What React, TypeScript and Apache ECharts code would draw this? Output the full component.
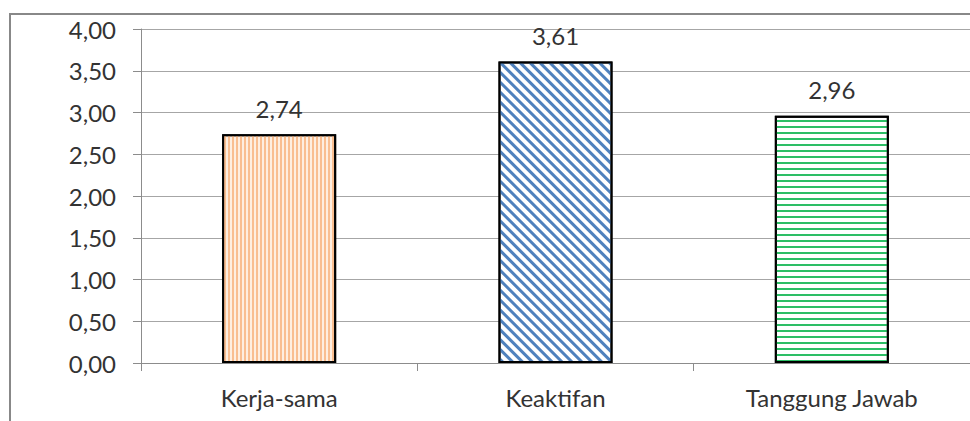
import React, { useEffect, useRef } from "react";
import * as echarts from "echarts";

const categories = ["Kerja-sama", "Keaktifan", "Tanggung Jawab"];
const values = [2.74, 3.61, 2.96];
const yTicks = { min: 0, max: 4, interval: 0.5 };

const fmt = (v: number) => v.toFixed(2).replace(".", ",");

export default function App() {
  const ref = useRef<HTMLDivElement>(null);
  useEffect(() => {
    if (!ref.current) return;
    const chart = echarts.init(ref.current, null, { renderer: "svg" });
    const font = "Lato";
    const fs = 24;
    const styles = [
      {
        color: "#FEEEE0",
        borderColor: "#000",
        borderWidth: 2,
        decal: {
          symbol: "rect",
          symbolSize: 1,
          color: "#F9BE90",
          dashArrayX: [1.6, 1.8],
          dashArrayY: [10, 0],
          rotation: 0,
        },
      },
      {
        color: "#FFFFFF",
        borderColor: "#000",
        borderWidth: 2,
        decal: {
          symbol: "rect",
          symbolSize: 1,
          color: "#4F81BD",
          dashArrayX: [2.4, 3.3],
          dashArrayY: [10, 0],
          rotation: -Math.PI / 4,
        },
      },
      {
        color: "#FFFFFF",
        borderColor: "#000",
        borderWidth: 2,
        decal: {
          symbol: "rect",
          symbolSize: 1,
          color: "#2DBE66",
          dashArrayX: [10, 0],
          dashArrayY: [2, 3.3],
          rotation: 0,
        },
      },
    ];
    chart.setOption({
      animation: false,
      backgroundColor: "#fff",
      textStyle: { fontFamily: font },
      grid: { left: 141, top: 29, width: 840, height: 334, containLabel: false },
      xAxis: {
        type: "category",
        data: categories,
        axisLine: { show: true, lineStyle: { color: "#8C8C8C", width: 1 } },
        axisTick: { show: true, length: 8, alignWithLabel: false, lineStyle: { color: "#8C8C8C" } },
        axisLabel: { color: "#333", fontSize: fs, fontFamily: font, margin: 22 },
        splitLine: { show: false },
      },
      yAxis: {
        type: "value",
        min: yTicks.min,
        max: yTicks.max,
        interval: yTicks.interval,
        axisLine: { show: true, lineStyle: { color: "#8C8C8C", width: 1 } },
        axisTick: { show: true, length: 8, lineStyle: { color: "#8C8C8C" } },
        axisLabel: { color: "#333", fontSize: fs, fontFamily: font, margin: 25, formatter: (v: number) => fmt(v) },
        splitLine: { show: true, lineStyle: { color: "#A6A6A6", width: 1 } },
      },
      series: [
        {
          type: "bar",
          barWidth: 114,
          data: values.map((v, i) => ({ value: v, itemStyle: styles[i] })),
          label: {
            show: true,
            position: "top",
            distance: 14,
            color: "#333",
            fontSize: fs,
            fontFamily: font,
            formatter: (p: any) => fmt(p.value),
          },
        },
      ],
      graphic: [
        {
          type: "rect",
          shape: { x: 10, y: 14, width: 1200, height: 800 },
          style: { fill: "none", stroke: "#888888", lineWidth: 2 },
          silent: true,
          z: 100,
        },
      ],
    });
    return () => chart.dispose();
  }, []);
  return (
    <div
      ref={ref}
      style={{ position: "absolute", left: 0, top: 0, width: 970, height: 421 }}
    />
  );
}
